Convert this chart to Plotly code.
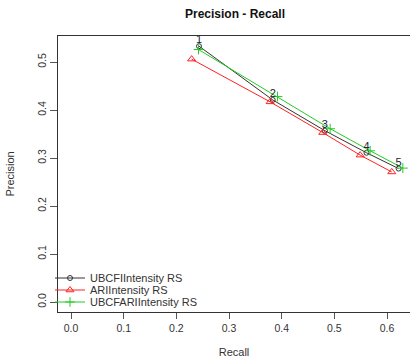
import plotly.graph_objects as go

# Data
ubcf_recall = [0.243, 0.383, 0.482, 0.561, 0.622]
ubcf_precision = [0.533, 0.421, 0.357, 0.311, 0.278]
ari_recall = [0.229, 0.378, 0.478, 0.549, 0.609]
ari_precision = [0.506, 0.417, 0.353, 0.306, 0.271]
combo_recall = [0.242, 0.392, 0.492, 0.568, 0.630]
combo_precision = [0.526, 0.428, 0.361, 0.315, 0.279]
point_labels = ["1", "2", "3", "4", "5"]
series_names = ["UBCFIIntensity RS", "ARIIntensity RS", "UBCFARIIntensity RS"]
x_ticks = [0.0, 0.1, 0.2, 0.3, 0.4, 0.5, 0.6]
y_ticks = [0.0, 0.1, 0.2, 0.3, 0.4, 0.5]

FONT = "Liberation Sans, Arial, sans-serif"

fig = go.Figure()
fig.add_trace(go.Scatter(
    x=ubcf_recall, y=ubcf_precision, mode="lines+markers", name=series_names[0],
    legend="legend",
    line=dict(color="#333333", width=1),
    marker=dict(symbol="circle-open", size=5, color="#333333", line=dict(width=1)),
))
fig.add_trace(go.Scatter(
    x=ari_recall, y=ari_precision, mode="lines+markers", name=series_names[1],
    legend="legend2",
    line=dict(color="#ff2020", width=1),
    marker=dict(symbol="triangle-up-open", size=7, color="#ff2020", line=dict(width=1)),
))
fig.add_trace(go.Scatter(
    x=combo_recall, y=combo_precision, mode="lines+markers", name=series_names[2],
    legend="legend3",
    line=dict(color="#22cc22", width=1),
    marker=dict(symbol="cross-thin-open", size=7, color="#22cc22", line=dict(width=1, color="#22cc22")),
))
fig.add_trace(go.Scatter(
    x=ubcf_recall, y=ubcf_precision, mode="text", text=point_labels,
    textposition="top center", showlegend=False, hoverinfo="skip",
    textfont=dict(family=FONT, size=11, color="#222233"),
))

legend_common = dict(xref="paper", yref="paper", xanchor="left", yanchor="middle",
                     bgcolor="rgba(0,0,0,0)", borderwidth=0, itemwidth=30,
                     font=dict(size=11, color="#333333"))
row_y = [(312 - 278) / 276, (312 - 290) / 276, (312 - 302) / 276]
legend_x = -8 / 352

fig.update_layout(
    width=410, height=360,
    margin=dict(l=58, r=0, t=36, b=48),
    paper_bgcolor="white", plot_bgcolor="white",
    font=dict(family=FONT, size=10, color="#333333"),
    title=dict(text="<b>Precision - Recall</b>", x=235 / 410, xanchor="center",
               y=1 - 14 / 360, yanchor="middle", font=dict(size=12, color="#111111")),
    showlegend=True,
    legend=dict(x=legend_x, y=row_y[0], **legend_common),
    legend2=dict(x=legend_x, y=row_y[1], **legend_common),
    legend3=dict(x=legend_x, y=row_y[2], **legend_common),
    xaxis=dict(
        range=[-0.0247, 0.6436], tickvals=x_ticks, ticktext=[f"{v:.1f}" for v in x_ticks],
        showgrid=False, zeroline=False, showline=True, linecolor="#333333", linewidth=1,
        mirror=True, ticks="outside", ticklen=6, tickcolor="#555555",
        title=dict(text="Recall", standoff=15, font=dict(size=11)),
        tickfont=dict(size=10.5),
    ),
    yaxis=dict(
        range=[-0.0208, 0.5542], tickvals=y_ticks, ticktext=[f"{v:.1f}" for v in y_ticks],
        showgrid=False, zeroline=False, showline=True, linecolor="#333333", linewidth=1,
        ticks="outside", ticklen=7, tickcolor="#555555", tickangle=-90,
        title=dict(text="Precision", standoff=18, font=dict(size=11)),
        tickfont=dict(size=10.5),
    ),
)

fig.write_html("out.html")
